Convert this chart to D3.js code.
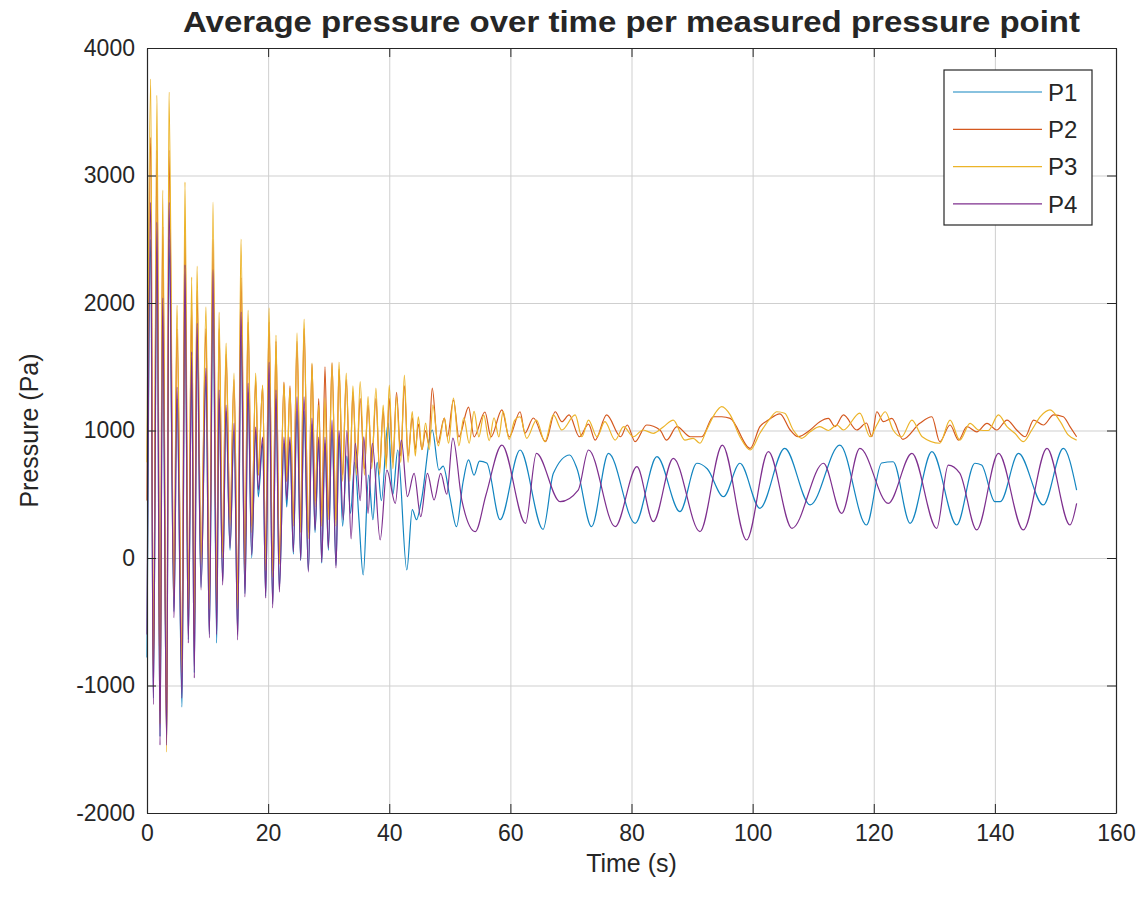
<!DOCTYPE html>
<html>
<head>
<meta charset="utf-8">
<script src="https://cdn.jsdelivr.net/npm/d3@7"></script>
<style>
  body { margin: 0; background: #ffffff; }
  svg text { font-family: "Liberation Sans", Arial, Helvetica, sans-serif; fill: #262626; }
</style>
</head>
<body>
<div id="pressure_plot"></div>
<script>
// series names and axis ticks
const seriesNames = ['P1', 'P2', 'P3', 'P4'];
const xTicks = [0, 20, 40, 60, 80, 100, 120, 140, 160];
const yTicks = [-2000, -1000, 0, 1000, 2000, 3000, 4000];

// early part (0-32 s): all four pressures swing together, peaks and troughs on a shared time base
const tEarly = [0, 0.61, 1.04, 1.65, 2.15, 2.59, 3.25, 3.63, 4.46, 4.95, 5.78, 6.27, 6.82, 7.38, 7.81, 8.26,
  8.92, 9.74, 10.29, 10.90, 11.51, 11.89, 12.50, 13.05, 13.71, 14.37, 14.98, 15.52, 16.18, 16.68, 17.29, 17.95,
  18.38, 19.10, 19.60, 20.15, 20.76, 21.30, 21.85, 22.62, 23.07, 23.61, 24.16, 24.77, 25.38, 25.93, 26.64, 27.25,
  27.74, 28.36, 28.85, 29.39, 29.94, 30.55, 31.21, 31.70];
const p1Early = [-780, 2500, -1100, 2400, -1400, 1900, -1450, 2500, -420, 1250, -1170, 2100, -640, 1500, -900, 1700,
  -230, 1400, -600, 2000, -667, 1250, -180, 1150, 60, 1000, -600, 1750, -280, 1300, 0, 980,
  480, 900, -300, 1400, -360, 1250, -240, 900, 400, 900, 30, 1150, -20, 1150, -100, 1050,
  200, 900, -40, 900, 60, 1000, -60, 950];
const p2Early = [450, 3300, -900, 3200, -1200, 2600, -1400, 3200, -250, 1800, -800, 2600, -400, 2000, -600, 2100,
  0, 1800, -350, 2500, -350, 1800, 50, 1600, 300, 1400, -300, 2200, -50, 1850, 250, 1400,
  650, 1350, -50, 1850, -100, 1700, 0, 1380, 600, 1350, 300, 1700, 250, 1800, 200, 1520,
  450, 1250, 300, 1500, 350, 1530, 300, 1480];
const p3Early = [750, 3757, -1000, 3630, -1300, 2886, -1522, 3655, -300, 1984, -900, 2949, -450, 2204, -700, 2290,
  -50, 1969, -400, 2792, -400, 1929, 0, 1686, 250, 1451, -400, 2502, -100, 1945, 200, 1451,
  650, 1357, -100, 1961, -150, 1749, -50, 1372, 600, 1333, 250, 1765, 200, 1874, 150, 1529,
  400, 1200, 250, 1255, 300, 1529, 250, 1537];
const p4Early = [-600, 2790, -1150, 2635, -1467, 2040, -1470, 2790, -470, 1340, -1100, 2300, -667, 1616, -941, 1843,
  -251, 1490, -627, 2260, -600, 1318, -212, 1200, 78, 1059, -643, 1930, -306, 1372, 24, 1027,
  533, 949, -314, 1537, -392, 1318, -267, 949, 455, 949, 47, 1263, -16, 1263, -110, 1098,
  220, 949, -31, 949, 78, 1082, -78, 1000];

// later part (after 32 s): [time (s), pressure (Pa)]
const p1Late = [[32.3,250],[33.0,800],[33.6,350],[34.3,750],[35.0,300],[35.7,-133],[36.6,650],[37.3,300],[38.0,750],
  [38.7,450],[39.8,1059],[40.6,500],[41.4,847],[42.9,-94],[43.8,380],[44.5,300],[45.3,450],[47.1,1004],[48.2,690],
  [48.9,720],[50.0,480],[51.1,246],[52.2,600],[53.1,769],[54.0,650],[54.9,760],[56.1,745],[58.3,300],[61.6,847],
  [65.4,225],[67.1,664],[69.8,808],[71.0,700],[73.4,246],[76.2,821],[80.6,272],[84.2,795],[88.0,363],[90.8,743],
  [92.5,700],[95.2,481],[97.9,743],[101.2,390],[105.3,860],[109.5,416],[114.4,886],[118.8,259],[121.3,745],
  [123.2,755],[126.0,272],[129.6,834],[133.7,259],[136.7,743],[137.8,730],[140.0,442],[140.9,442],[143.9,821],
  [148.0,416],[151.3,860],[153.5,533]];
const p2Late = [[32.3,650],[32.9,1400],[33.5,650],[34.0,1300],[34.6,700],[35.2,1250],[35.9,700],[36.5,1200],
  [37.1,750],[37.8,1250],[38.4,700],[39.0,1150],[39.5,750],[40.0,1250],[40.6,750],[41.2,1300],[41.9,800],
  [42.5,1350],[43.1,800],[43.8,1100],[44.3,850],[44.8,1050],[45.4,850],[46.0,1000],[46.5,900],[47.1,1333],
  [48.0,900],[49.1,1098],[49.6,950],[50.6,1239],[51.5,950],[53.1,1184],[54.0,950],[55.8,1145],[56.8,950],
  [58.6,1161],[59.8,950],[61.6,1147],[62.4,980],[63.8,1098],[65.8,912],[67.4,1147],[68.5,1069],[69.7,1122],
  [71.4,951],[72.9,1050],[74.0,925],[75.9,1122],[78.2,951],[79.3,1043],[80.6,912],[82.5,1043],[84.7,1004],
  [85.8,925],[87.5,1030],[89.7,951],[91.6,951],[93.5,1108],[94.9,1108],[96.3,1095],[99.6,860],[101.2,1030],
  [102.6,1082],[104.5,1130],[106.2,1004],[107.5,951],[109.5,1004],[111.1,1069],[112.5,1095],[113.6,1030],
  [115.0,1122],[117.2,1004],[118.8,1059],[119.7,951],[120.5,1147],[121.6,1069],[123.0,1095],[124.8,930],
  [127.6,1056],[129.6,1108],[130.9,912],[132.6,1043],[134.0,925],[135.4,1030],[137.0,990],[138.7,1056],
  [140.3,1004],[142.0,1082],[143.6,1004],[145.0,951],[146.4,1082],[148.0,1043],[149.7,1122],[151.3,1108],
  [152.4,1030],[153.5,951]];
const p3Late = [[32.3,600],[32.9,1450],[33.5,600],[34.0,1350],[34.6,650],[35.2,1383],[35.9,650],[36.5,1265],
  [37.1,700],[37.8,1333],[38.4,650],[39.0,1200],[39.5,700],[40.0,1357],[40.6,700],[41.2,1265],[41.9,750],
  [42.5,1435],[43.1,750],[43.8,1148],[44.3,800],[44.8,1108],[45.4,850],[46.0,1059],[46.6,850],[47.2,1200],
  [48.1,880],[49.1,1098],[49.8,900],[50.6,1255],[51.5,880],[52.3,1100],[53.2,900],[54.0,1150],[54.8,950],
  [55.6,1120],[56.5,920],[57.3,1100],[58.1,950],[58.8,1150],[59.8,930],[60.7,1080],[61.6,1108],[62.7,939],
  [64.3,1082],[65.7,912],[67.1,1122],[68.5,1004],[70.7,1122],[71.8,951],[72.9,1082],[74.3,951],[75.6,1069],
  [77.3,925],[78.7,1030],[80.3,951],[81.9,1004],[83.6,978],[85.3,1030],[86.9,1082],[88.8,925],[90.2,939],
  [91.3,900],[92.4,1004],[93.8,1135],[94.9,1187],[96.3,1122],[97.9,951],[99.6,847],[101.2,978],[102.9,1095],
  [104.0,1147],[105.3,1135],[106.7,1004],[108.1,939],[109.5,990],[111.1,1030],[112.5,1000],[113.9,1043],
  [115.0,1004],[117.7,1137],[119.4,951],[120.5,1043],[121.9,1147],[123.2,1004],[124.6,951],[126.3,1082],
  [128.0,951],[130.9,900],[132.6,1082],[134.2,925],[135.9,1056],[137.3,1004],[138.9,1000],[140.6,1122],
  [142.0,1030],[143.3,978],[144.7,912],[146.1,1004],[147.5,1108],[149.1,1161],[150.8,1069],[152.1,965],
  [153.5,925]];
const p4Late = [[32.4,300],[33.0,1000],[33.7,150],[34.4,900],[35.2,450],[35.8,950],[36.5,350],[37.2,900],
  [38.5,141],[39.6,690],[41.0,429],[42.0,925],[43.0,481],[44.1,664],[45.2,324],[46.3,664],[47.4,455],[48.5,664],
  [49.5,500],[50.5,940],[52.0,450],[54.2,207],[56.0,500],[58.6,886],[62.5,272],[64.3,821],[68.2,442],[71.2,533],
  [72.9,847],[77.3,246],[80.9,716],[83.6,285],[86.9,782],[91.3,207],[95.0,886],[99.0,141],[102.6,834],
  [106.5,233],[111.7,743],[114.7,350],[117.7,860],[122.4,429],[126.3,821],[130.4,233],[132.3,729],[134.2,666],
  [137.0,220],[140.6,821],[144.7,220],[148.6,860],[152.4,259],[153.5,429]];

function pressurePlot(){
    const width = 1148;
    const height = 908;
    const left = 147, right = 1116, top = 48, bottom = 813;
    const colors = ['#1385c0', '#d4581f', '#ecb429', '#7e2f8e'];
    const gridColor = '#cfcfcf';

    var early = [p1Early, p2Early, p3Early, p4Early];
    var late = [p1Late, p2Late, p3Late, p4Late];
    var series = seriesNames.map(function(name, i){
        var pts = tEarly.map((t, j) => ({t: t, v: early[i][j]}));
        late[i].forEach(d => pts.push({t: d[0], v: d[1]}));
        return {name: name, color: colors[i], values: pts};
    });

    const svg = d3.select('#pressure_plot')
        .append('svg')
        .attr('width', width)
        .attr('height', height);

    var xScale = d3.scaleLinear().domain([0, 160]).range([left, right]);
    var yScale = d3.scaleLinear().domain([-2000, 4000]).range([bottom, top]);

    // grid
    svg.append('g')
        .attr('class', 'grid')
        .attr('transform', 'translate(0,' + bottom + ')')
        .call(d3.axisBottom(xScale).tickValues(xTicks).tickSize(-(bottom - top)).tickFormat(''))
        .call(g => g.select('.domain').remove());
    svg.append('g')
        .attr('class', 'grid')
        .attr('transform', 'translate(' + left + ',0)')
        .call(d3.axisLeft(yScale).tickValues(yTicks).tickSize(-(right - left)).tickFormat(''))
        .call(g => g.select('.domain').remove());
    svg.selectAll('.grid line').attr('stroke', gridColor);

    // lines, P4 drawn last so it sits on top
    var line = d3.line()
        .x(d => xScale(d.t))
        .y(d => yScale(d.v))
        .curve(d3.curveMonotoneX);

    svg.append('g')
        .selectAll('path')
        .data(series)
        .join('path')
            .attr('d', d => line(d.values))
            .attr('fill', 'none')
            .attr('stroke', d => d.color)
            .attr('stroke-width', 1.2)
            .attr('stroke-linejoin', 'round');

    // axes, ticks pointing inward like matlab
    var fmt = d3.format('d');
    var xAxis = svg.append('g')
        .attr('class', 'ax')
        .attr('transform', 'translate(0,' + bottom + ')')
        .call(d3.axisBottom(xScale).tickValues(xTicks).tickFormat(fmt).tickSizeInner(-9).tickSizeOuter(0).tickPadding(12));
    var yAxis = svg.append('g')
        .attr('class', 'ax')
        .attr('transform', 'translate(' + left + ',0)')
        .call(d3.axisLeft(yScale).tickValues(yTicks).tickFormat(d => fmt(d).replace('\u2212', '-')).tickSizeInner(-9).tickSizeOuter(0).tickPadding(12));
    svg.append('g')
        .attr('class', 'ax')
        .attr('transform', 'translate(0,' + top + ')')
        .call(d3.axisTop(xScale).tickValues(xTicks).tickSizeInner(-9).tickSizeOuter(0).tickFormat(''));
    svg.append('g')
        .attr('class', 'ax')
        .attr('transform', 'translate(' + right + ',0)')
        .call(d3.axisRight(yScale).tickValues(yTicks).tickSizeInner(-9).tickSizeOuter(0).tickFormat(''));

    svg.selectAll('.ax .domain').attr('stroke', '#262626').attr('stroke-width', 1.2);
    svg.selectAll('.ax .tick line').attr('stroke', '#262626');
    xAxis.selectAll('text').style('font-size', '23px').attr('fill', '#262626');
    yAxis.selectAll('text').style('font-size', '23px').attr('fill', '#262626');

    // labels
    svg.append('text')
        .attr('x', (left + right) / 2)
        .attr('y', 872)
        .attr('text-anchor', 'middle')
        .style('font-size', '25px')
        .text('Time (s)');
    svg.append('text')
        .attr('transform', 'translate(38,' + (top + bottom) / 2 + ') rotate(-90)')
        .attr('text-anchor', 'middle')
        .style('font-size', '25px')
        .text('Pressure (Pa)');
    svg.append('text')
        .attr('x', (left + right) / 2)
        .attr('y', 32)
        .attr('text-anchor', 'middle')
        .attr('textLength', 897)
        .attr('lengthAdjust', 'spacingAndGlyphs')
        .style('font-size', '30px')
        .style('font-weight', 'bold')
        .attr('fill', '#000000')
        .text('Average pressure over time per measured pressure point');

    // legend
    var legend = svg.append('g');
    legend.append('rect')
        .attr('x', 944).attr('y', 70)
        .attr('width', 148).attr('height', 155)
        .attr('fill', '#ffffff')
        .attr('stroke', '#262626')
        .attr('stroke-width', 1.2);
    var rows = legend.selectAll('g.row')
        .data(series)
        .join('g')
            .attr('class', 'row')
            .attr('transform', (d, i) => 'translate(0,' + (92 + i * 37.3) + ')');
    rows.append('line')
        .attr('x1', 953).attr('x2', 1042)
        .attr('stroke', d => d.color)
        .attr('stroke-width', 1.2);
    rows.append('text')
        .attr('x', 1048)
        .attr('dy', '0.36em')
        .style('font-size', '24px')
        .text(d => d.name);
}
pressurePlot();
</script>
</body>
</html>
